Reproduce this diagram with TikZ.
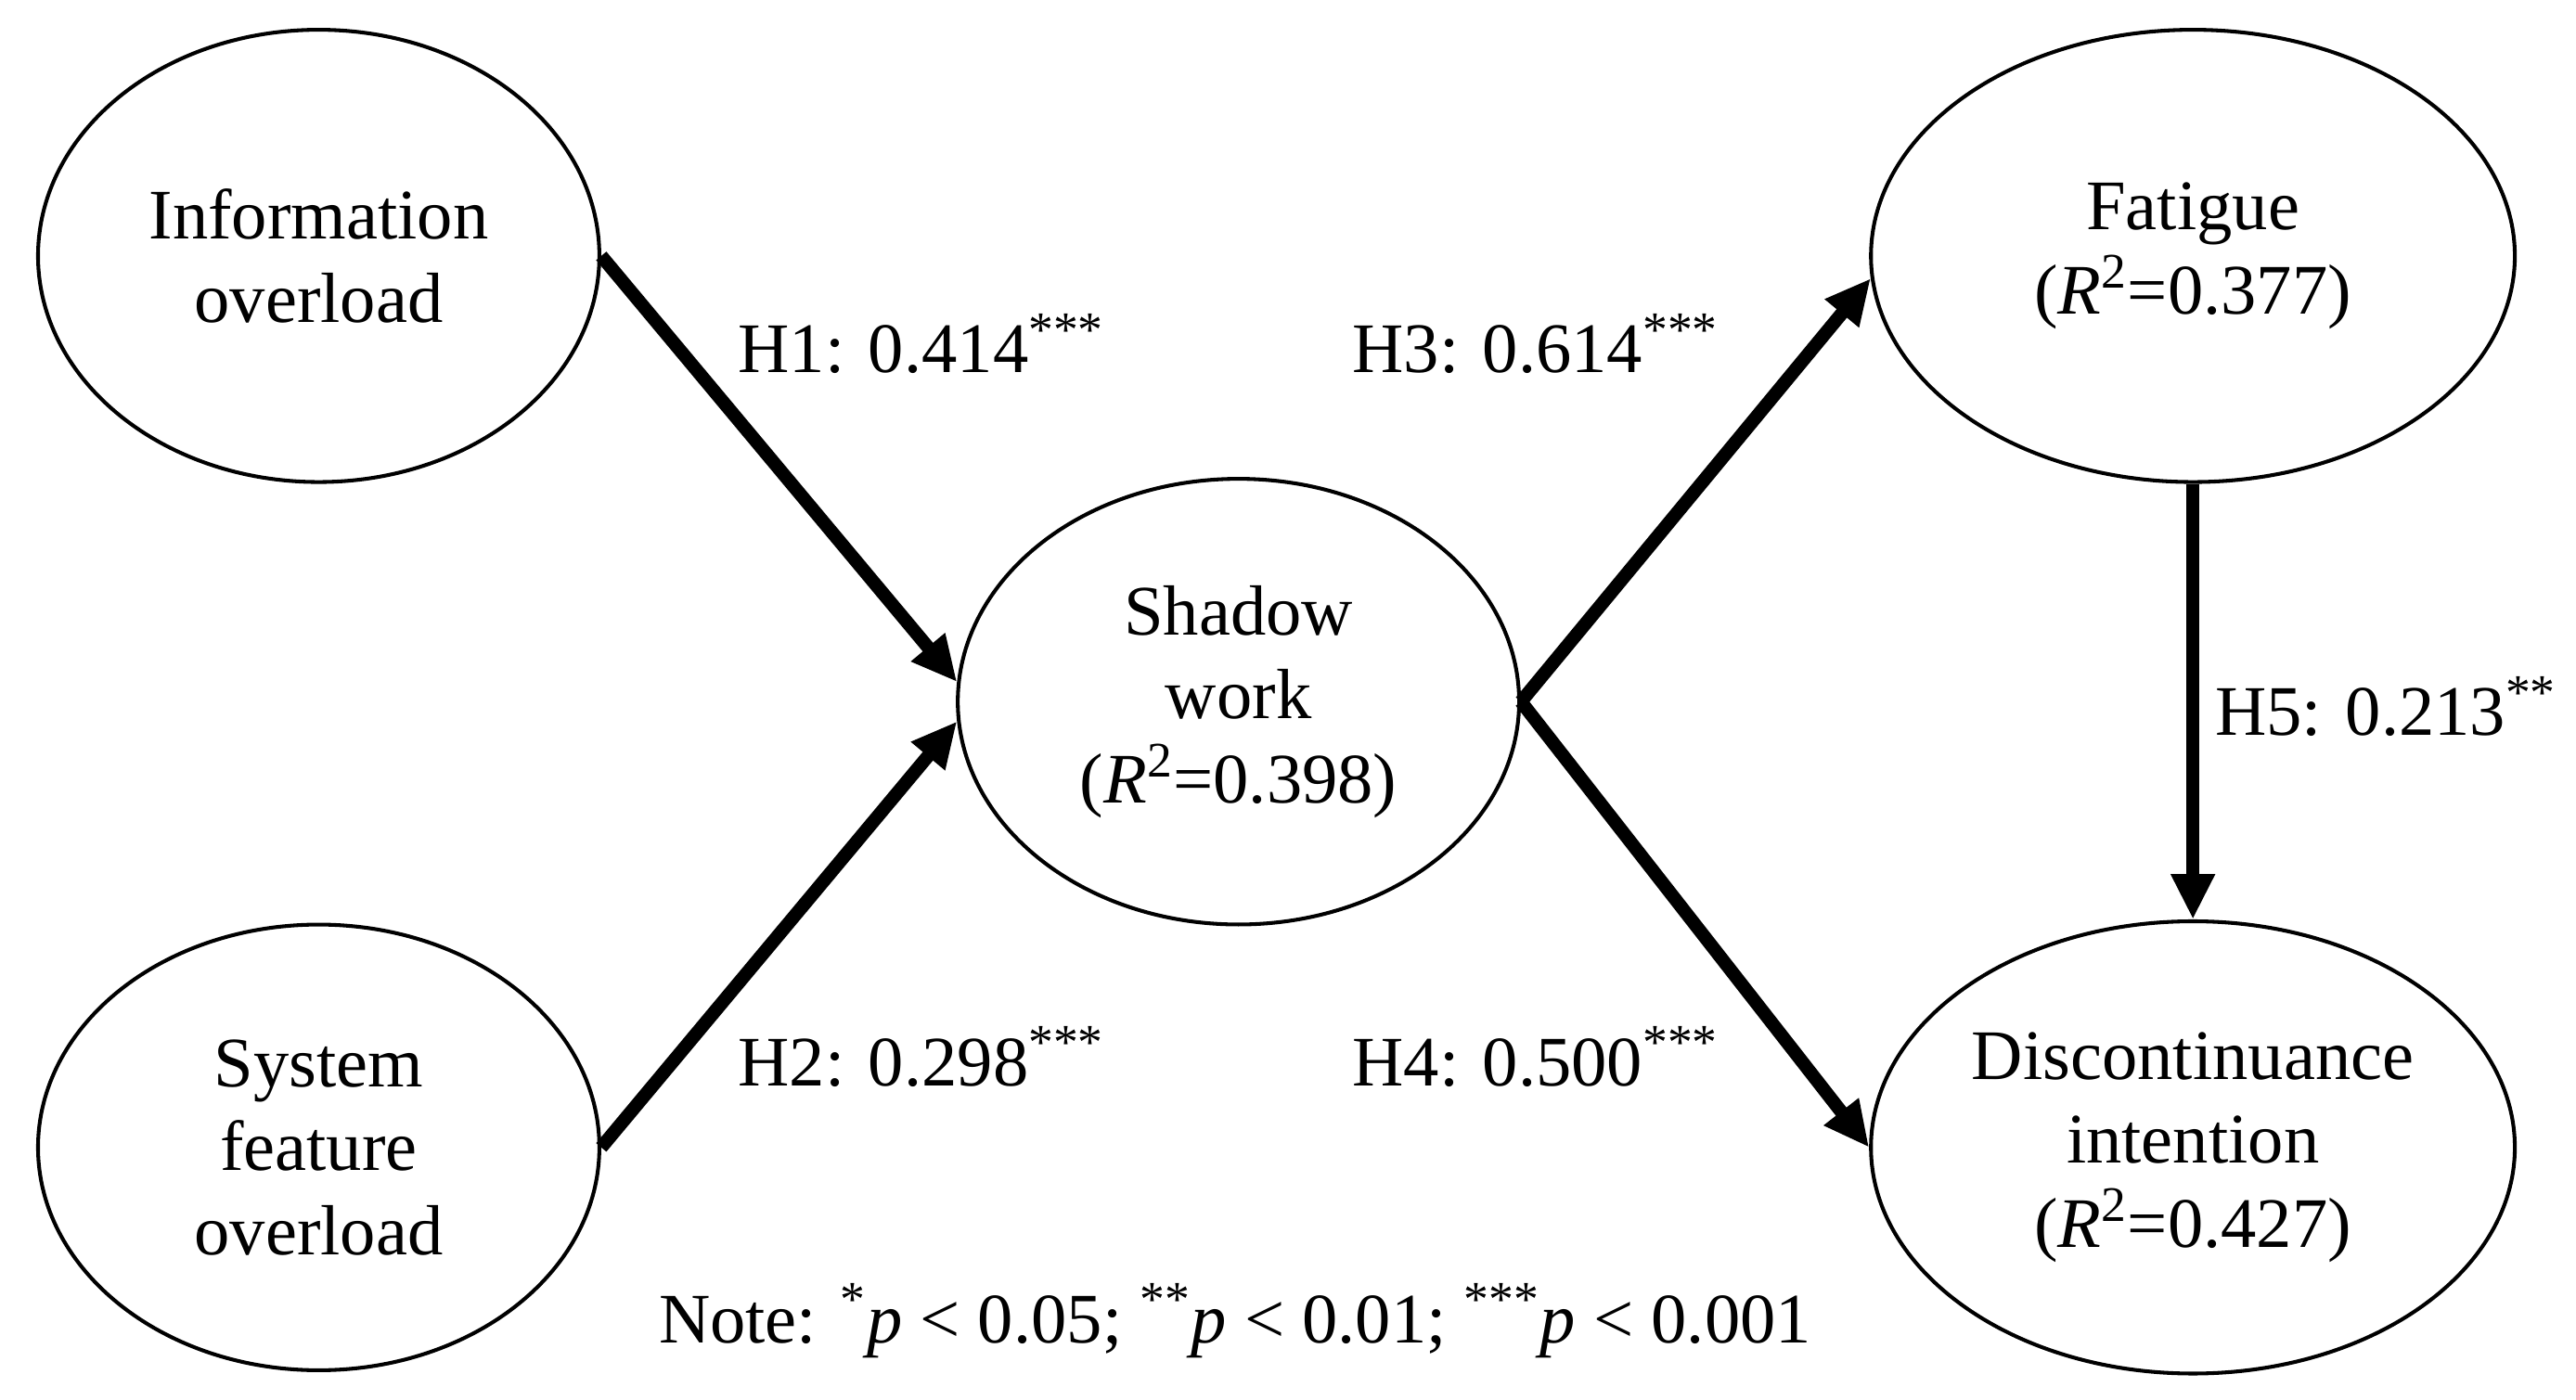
\documentclass[tikz,border=0pt]{standalone}
\usepackage{fontspec}
\setmainfont{Liberation Serif}
\usetikzlibrary{shapes.geometric,arrows.meta}
\begin{document}
\begin{tikzpicture}[x=0.02cm,y=-0.02cm,
  lat/.style={ellipse,draw,line width=1.3pt,align=center,inner sep=0pt,font=\fontsize{24.5}{29}\selectfont},
  path/.style={line width=4.6pt,-{Triangle[length=0.55cm,width=0.5cm]}},
  lab/.style={font=\fontsize{24.5}{29}\selectfont}]
\useasboundingbox (0,0) rectangle (1560,848);
\node[lat,minimum width=6.8cm,minimum height=5.48cm] (info) at (193,155) {Information\\overload};
\node[lat,minimum width=6.8cm,minimum height=5.4cm] (sys) at (193,695) {System\\feature\\overload};
\node[lat,minimum width=6.8cm,minimum height=5.4cm] (shadow) at (750,425) {Shadow\\work\\(\textit{R}\textsuperscript{2}=0.398)};
\node[lat,minimum width=7.8cm,minimum height=5.48cm] (fat) at (1328,155) {Fatigue\\(\textit{R}\textsuperscript{2}=0.377)};
\node[lat,minimum width=7.8cm,minimum height=5.48cm] (disc) at (1328,695) {Discontinuance\\intention\\(\textit{R}\textsuperscript{2}=0.427)};
\draw[path] (info.east) -- (shadow.176);
\draw[path] (sys.east) -- (shadow.184);
\draw[path] (shadow.east) -- (fat.184);
\draw[path] (shadow.east) -- (disc.west);
\draw[path] (fat.south) -- (disc.north);
\node[lab] (h1) at (558,208) {H1: 0.414\textsuperscript{***}};
\node[lab] (h2) at (558,640) {H2: 0.298\textsuperscript{***}};
\node[lab] (h3) at (930,208) {H3: 0.614\textsuperscript{***}};
\node[lab] (h4) at (930,640) {H4: 0.500\textsuperscript{***}};
\node[lab] (h5) at (1445,428) {H5: 0.213\textsuperscript{**}};
\node[lab] (note) at (748,800) {Note: \textsuperscript{*}\textit{p} < 0.05; \textsuperscript{**}\textit{p} < 0.01; \textsuperscript{***}\textit{p} < 0.001};
\end{tikzpicture}
\end{document}
